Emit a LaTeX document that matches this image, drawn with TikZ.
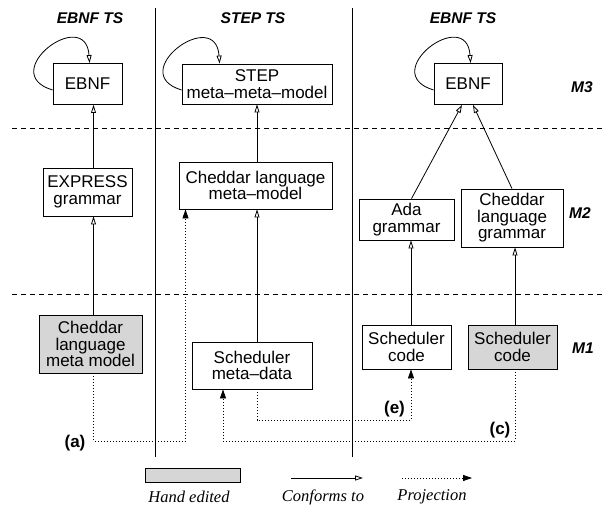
\documentclass[tikz,border=0pt]{standalone}
\usepackage{fontspec}
\usetikzlibrary{arrows.meta}
\setmainfont{Liberation Serif}
\newfontfamily\helv{Liberation Sans}
\definecolor{handgray}{RGB}{214,214,214}
\tikzset{
  mbox/.style={draw, rectangle, line width=0.8pt, inner sep=0pt, align=center,
    font=\helv\fontsize{17}{16.5}\selectfont},
  conf/.style={line width=0.8pt, -{Triangle[open, length=8pt, width=5pt]}},
  proj/.style={line width=0.8pt, dash pattern=on 1pt off 2pt,
    -{Triangle[length=9pt, width=6pt]}},
  level/.style={line width=0.8pt, dash pattern=on 5pt off 4pt},
  column/.style={line width=1pt}
}
\newcommand{\drawbox}{\node[mbox]}
\newcommand{\drawboxhand}{\node[mbox, fill=handgray]}
\newcommand{\drawts}{\node[font=\helv\bfseries\itshape\fontsize{15.5}{16}\selectfont]}
\newcommand{\drawtag}{\node[font=\helv\bfseries\fontsize{17}{18}\selectfont]}
\newcommand{\drawlegend}{\node[font=\itshape\fontsize{16.5}{18}\selectfont]}
\newcommand{\arrconf}{\draw[conf]}
\newcommand{\arrproj}{\draw[proj]}

\begin{document}
\begin{tikzpicture}[x=1pt, y=-1pt]
\useasboundingbox (0,0) rectangle (605,508);

%columns and levels
\draw[column] (155,8) -- (155,457);
\draw[column] (352,8) -- (352,457);
\draw[level] (12,128) -- (605,128);
\draw[level] (12,294) -- (605,294);

\drawts (tsA) at (90,18) {EBNF TS};
\drawts (tsB) at (253,18) {STEP TS};
\drawts (tsC) at (463,18) {EBNF TS};
\drawts (mThree) at (582,87) {M3};
\drawts (mTwo) at (580,213) {M2};
\drawts (mOne) at (583,348) {M1};

%helper columns for the arrows
\coordinate (colA) at (93.5,0);
\coordinate (colB) at (257,0);
\coordinate (colC) at (411,0);
\coordinate (colD) at (515,0);
\coordinate (midRow) at (0,420);
\coordinate (lowRow) at (0,441);

%M3
\drawbox (ebnfA) [minimum width=69pt, minimum height=41pt] at (87.5,84) {EBNF};
\drawbox (stepM) [minimum width=150pt, minimum height=40pt] at (257,84) {STEP\\meta–meta–model};
\drawbox (ebnfB) [minimum width=68pt, minimum height=41pt] at (468,84) {EBNF};

%M2
\drawbox (exprG) [minimum width=89pt, minimum height=48pt] at (87.5,192) {EXPRESS\\grammar};
\drawbox (chedMeta) [minimum width=153pt, minimum height=47pt] at (255.5,185.5) {Cheddar language\\meta–model};
\drawbox (adaG) [minimum width=95pt, minimum height=41pt] at (406.5,219.5) {Ada\\grammar};
\drawbox (chedG) [minimum width=102pt, minimum height=58pt] at (512,218) {Cheddar\\language\\grammar};

%M1
\drawboxhand (chedMM) [minimum width=103pt, minimum height=58pt] at (90.5,344) {Cheddar\\language\\meta model};
\drawbox (schedMD) [minimum width=120pt, minimum height=47pt] at (252,365.5) {Scheduler\\meta–data};
\drawbox (schedC) [minimum width=89pt, minimum height=44pt] at (406.5,347) {Scheduler\\code};
\drawboxhand (schedCH) [minimum width=89pt, minimum height=44pt] at (512.5,347) {Scheduler\\code};

%conforms to
\arrconf ([yshift=-6pt]ebnfA.west) .. controls +(-57,-17) and +(-4,-58) .. ([xshift=37pt]ebnfA.north west);
\arrconf ([yshift=-6pt]stepM.west) .. controls +(-57,-17) and +(-4,-58) .. ([xshift=38pt]stepM.north west);
\arrconf ([yshift=-6pt]ebnfB.west) .. controls +(-57,-17) and +(-4,-58) .. ([xshift=37pt]ebnfB.north west);
\arrconf (exprG.north -| colA) -- (ebnfA.south -| colA);
\arrconf (chedMM.north -| colA) -- (exprG.south -| colA);
\arrconf (chedMeta.north -| colB) -- (stepM.south -| colB);
\arrconf (schedMD.north -| colB) -- (chedMeta.south -| colB);
\arrconf ([xshift=5pt]adaG.north) -- ([xshift=-6pt]ebnfB.south);
\arrconf (chedG.north) -- ([xshift=5pt]ebnfB.south);
\arrconf (schedC.north -| colC) -- (adaG.south -| colC);
\arrconf (schedCH.north -| colD) -- (chedG.south -| colD);

%projections
\arrproj (chedMM.south -| colA) -- (colA |- lowRow) -| ([xshift=-70pt]chedMeta.south);
\arrproj (schedCH.south -| colD) -- (colD |- lowRow) -| ([xshift=-29pt]schedMD.south);
\arrproj (schedMD.south -| colB) -- (colB |- midRow) -| (schedC.south -| colC);
\drawtag (tagA) at (75,443) {(a)};
\drawtag (tagE) at (394.5,409) {(e)};
\drawtag (tagC) at (500,430.5) {(c)};

%legend
\node[draw, line width=0.8pt, fill=handgray, minimum width=95pt, minimum height=14pt, inner sep=0pt] (legHand) at (192.5,475) {};
\coordinate (legConfA) at (291,478);
\coordinate (legConfB) at (363,478);
\coordinate (legProjA) at (402,478);
\coordinate (legProjB) at (472,478);
\arrconf (legConfA) -- (legConfB);
\arrproj (legProjA) -- (legProjB);
\drawlegend (txtHand) at (189,497) {Hand edited};
\drawlegend (txtConf) at (323,497) {Conforms to};
\drawlegend (txtProj) at (432,497) {Projection};
\end{tikzpicture}
\end{document}
